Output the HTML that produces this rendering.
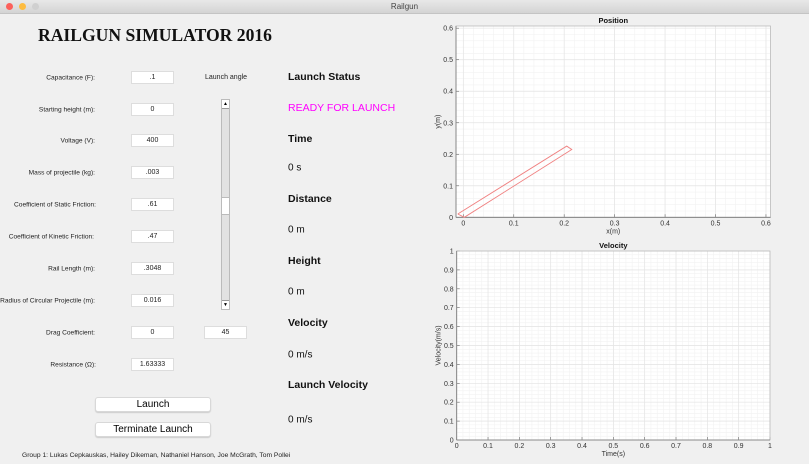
<!DOCTYPE html>
<html><head><meta charset="utf-8"><style>
body{margin:0;width:809px;height:464px;background:#f0f0f0;font-family:"Liberation Sans",sans-serif;position:relative;overflow:hidden}
.a{position:absolute}
.lbl{position:absolute;font-size:6.6px;color:#222;text-align:right;width:200px;transform:translateY(-50%)}
.inp{position:absolute;left:131px;width:43px;height:13px;background:#fff;border:1px solid #ddd;box-sizing:border-box;font-size:7px;text-align:center;line-height:11px;color:#222}
.h{position:absolute;left:288px;font-size:10.5px;font-weight:bold;color:#111;transform:translateY(-50%)}
.v{position:absolute;left:288px;font-size:10px;color:#111;transform:translateY(-50%)}
.btn{position:absolute;left:95px;width:116px;height:15px;background:#fff;border:1px solid #d8d8d8;border-radius:3px;box-sizing:border-box;font-size:10px;text-align:center;line-height:13px;box-shadow:0 1px 1px #ccc}
</style></head><body>
<div class="a" style="left:0;top:0;width:809px;height:13px;background:linear-gradient(#e8e8e8,#d4d4d4);border-bottom:1px solid #c4c4c4;font-size:8px;text-align:center;line-height:13px;color:#444">Railgun</div>
<div class="a" style="left:6px;top:3px;width:7px;height:7px;border-radius:50%;background:#fc605b"></div>
<div class="a" style="left:19px;top:3px;width:7px;height:7px;border-radius:50%;background:#fdbc40"></div>
<div class="a" style="left:32px;top:3px;width:7px;height:7px;border-radius:50%;background:#d0d0d0"></div>
<div class="a" style="left:38px;top:25px;font-family:'Liberation Serif',serif;font-weight:bold;font-size:17.6px;color:#111">RAILGUN SIMULATOR 2016</div>

<div class="lbl" style="left:-105px;top:78px">Capacitance (F):</div>
<div class="inp" style="top:71px">.1</div>
<div class="lbl" style="left:-105px;top:110px">Starting height (m):</div>
<div class="inp" style="top:103px">0</div>
<div class="lbl" style="left:-105px;top:141px">Voltage (V):</div>
<div class="inp" style="top:134px">400</div>
<div class="lbl" style="left:-105px;top:173px">Mass of projectile (kg):</div>
<div class="inp" style="top:166px">.003</div>
<div class="lbl" style="left:-104px;top:205px">Coefficient of Static Friction:</div>
<div class="inp" style="top:198px">.61</div>
<div class="lbl" style="left:-106px;top:237px">Coefficient of Kinetic Friction:</div>
<div class="inp" style="top:230px">.47</div>
<div class="lbl" style="left:-105px;top:269px">Rail Length (m):</div>
<div class="inp" style="top:262px">.3048</div>
<div class="lbl" style="left:-105px;top:301px">Radius of Circular Projectile (m):</div>
<div class="inp" style="top:294px">0.016</div>
<div class="lbl" style="left:-105px;top:333px">Drag Coefficient:</div>
<div class="inp" style="top:326px">0</div>
<div class="lbl" style="left:-104px;top:365px">Resistance (Ω):</div>
<div class="inp" style="top:358px">1.63333</div>

<div class="a" style="left:205px;top:74px;font-size:7px;color:#222">Launch angle</div>
<div class="a" style="left:221px;top:99px;width:9px;height:211px;background:#e2e2e2;border:1px solid #bbb;box-sizing:border-box">
 <div class="a" style="left:0;top:0;width:7px;height:8px;background:#fff;border-bottom:1px solid #999;font-size:5px;text-align:center;line-height:8px">▲</div>
 <div class="a" style="left:0;top:97px;width:7px;height:16px;background:#fff;border-top:1px solid #bbb;border-bottom:1px solid #bbb"></div>
 <div class="a" style="left:0;bottom:0;width:7px;height:8px;background:#fff;border-top:1px solid #999;font-size:5px;text-align:center;line-height:8px">▼</div>
</div>
<div class="inp" style="left:204px;top:326px">45</div>

<div class="btn" style="top:397px">Launch</div>
<div class="btn" style="top:422px">Terminate Launch</div>
<div class="a" style="left:22px;top:452px;font-size:6.7px;color:#222">Group 1: Lukas Cepkauskas, Hailey Dikeman, Nathaniel Hanson, Joe McGrath, Tom Pollei</div>

<div class="h" style="top:77px">Launch Status</div>
<div class="v" style="top:108px;color:#f0f;font-size:10.5px">READY FOR LAUNCH</div>
<div class="h" style="top:139px">Time</div>
<div class="v" style="top:168px">0 s</div>
<div class="h" style="top:199px">Distance</div>
<div class="v" style="top:230px">0 m</div>
<div class="h" style="top:261px">Height</div>
<div class="v" style="top:292px">0 m</div>
<div class="h" style="top:323px">Velocity</div>
<div class="v" style="top:355px">0 m/s</div>
<div class="h" style="top:385px">Launch Velocity</div>
<div class="v" style="top:420px">0 m/s</div>

<svg id="ch" class="a" style="left:0;top:0" width="809" height="464"></svg>
<script>
const posXTicks=[0,0.1,0.2,0.3,0.4,0.5,0.6];
const posYTicks=[0,0.1,0.2,0.3,0.4,0.5,0.6];
const railX=[-0.011,0.205,0.215,0.002,-0.011];
const railY=[0.0105,0.226,0.215,0,0.0105];
const velXTicks=[0,0.1,0.2,0.3,0.4,0.5,0.6,0.7,0.8,0.9,1];
const velYTicks=[0,0.1,0.2,0.3,0.4,0.5,0.6,0.7,0.8,0.9,1];
const NS='http://www.w3.org/2000/svg';
const svg=document.getElementById('ch');
function mk(t,a,p){const e=document.createElementNS(NS,t);for(const k in a)e.setAttribute(k,a[k]);(p||svg).appendChild(e);return e;}
function axes(o){
 const g=mk('g',{});
 
 
 const sx=v=>o.L+(v-o.x0)/(o.x1-o.x0)*(o.R-o.L), sy=v=>o.B-(v-o.y0)/(o.y1-o.y0)*(o.B-o.T);
 mk('rect',{x:o.L,y:o.T,width:o.R-o.L,height:o.B-o.T,fill:'#fff'},g);
 const xs=o.xt[1]-o.xt[0], ys=o.yt[1]-o.yt[0];
 for(let v=Math.ceil(o.x0/(xs/5))*(xs/5);v<=o.x1+1e-9;v+=xs/5){const x=sx(v);mk('line',{x1:x,x2:x,y1:o.T,y2:o.B,stroke:'#f2f2f2','stroke-width':0.6},g);}
 for(let v=o.y0;v<=o.y1+1e-9;v+=ys/5){const y=sy(v);mk('line',{x1:o.L,x2:o.R,y1:y,y2:y,stroke:'#f2f2f2','stroke-width':0.6},g);}
 o.xt.forEach(v=>{const x=sx(v);mk('line',{x1:x,x2:x,y1:o.T,y2:o.B,stroke:'#e4e4e4','stroke-width':0.7},g);mk('line',{x1:x,x2:x,y1:o.B,y2:o.B-3,stroke:'#666','stroke-width':0.6},g);
  const t=mk('text',{x:x,y:o.B+8,'font-size':7,'text-anchor':'middle',fill:'#333'},g);t.textContent=String(v);});
 o.yt.forEach(v=>{const y=sy(v);mk('line',{x1:o.L,x2:o.R,y1:y,y2:y,stroke:'#e4e4e4','stroke-width':0.7},g);mk('line',{x1:o.L,x2:o.L+3,y1:y,y2:y,stroke:'#666','stroke-width':0.6},g);
  const t=mk('text',{x:o.L-3,y:y+2.5,'font-size':7,'text-anchor':'end',fill:'#333'},g);t.textContent=String(v);});
 mk('rect',{x:o.L,y:o.T,width:o.R-o.L,height:o.B-o.T,fill:'none',stroke:'#bbb','stroke-width':0.8},g);
 mk('line',{x1:o.L,x2:o.R,y1:o.B,y2:o.B,stroke:'#777','stroke-width':0.8},g);
 mk('line',{x1:o.L,x2:o.L,y1:o.T,y2:o.B,stroke:'#777','stroke-width':0.8},g);
 const ti=mk('text',{x:(o.L+o.R)/2,y:o.T-3,'font-size':7.5,'font-weight':'bold','text-anchor':'middle',fill:'#111'},g);ti.textContent=o.title;
 const xl=mk('text',{x:(o.L+o.R)/2,y:o.B+16,'font-size':7,'text-anchor':'middle',fill:'#333'},g);xl.textContent=o.xl;
 const yl=mk('text',{x:0,y:0,'font-size':7,'text-anchor':'middle',fill:'#333',transform:`translate(${o.L-16},${(o.T+o.B)/2}) rotate(-90)`},g);yl.textContent=o.yl;
 return {sx,sy,g};
}
const p=axes({name:'position-chart',L:456,R:770.5,T:26,B:217.3,x0:-0.0145,x1:0.609,y0:0,y1:0.607,xt:posXTicks,yt:posYTicks,title:'Position',xl:'x(m)',yl:'y(m)'});
const rail=mk('polyline',{points:railX.map((x,i)=>p.sx(x)+','+p.sy(railY[i])).join(' '),fill:'none',stroke:'#f08080','stroke-width':0.9},p.g);


axes({name:'velocity-chart',L:456.7,R:770,T:251,B:440,x0:0,x1:1,y0:0,y1:1,xt:velXTicks,yt:velYTicks,title:'Velocity',xl:'Time(s)',yl:'Velocity(m/s)'});
</script>
</body></html>
